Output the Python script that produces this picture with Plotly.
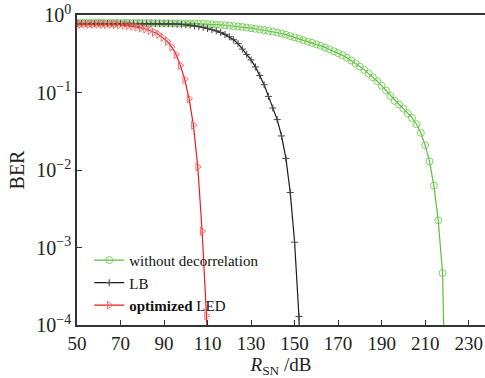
import plotly.graph_objects as go

# ---------------- data ----------------
x_green = [50, 52, 54, 56, 58, 60, 62, 64, 66, 68, 70, 72, 74, 76, 78, 80, 82, 84, 86, 88,
           90, 92, 94, 96, 98, 100, 102, 104, 106, 108, 110, 112, 114, 116, 118, 120, 122, 124,
           126, 128, 130, 132, 134, 136, 138, 140, 142, 144, 146, 148, 150, 152, 154, 156, 158,
           160, 162, 164, 166, 168, 170, 172, 174, 176, 178, 180, 182, 184, 186, 188, 190, 192,
           194, 196, 198, 200, 202, 204, 206, 208, 210, 212, 214, 216, 218, 220]
ber_green = [0.794, 0.794, 0.794, 0.794, 0.794, 0.794, 0.794, 0.794, 0.793, 0.793,
             0.792, 0.792, 0.791, 0.790, 0.790, 0.789, 0.788, 0.787, 0.786, 0.785,
             0.784, 0.783, 0.782, 0.781, 0.780, 0.779, 0.777, 0.775, 0.772, 0.768,
             0.764, 0.759, 0.752, 0.745, 0.737, 0.729, 0.720, 0.710, 0.700, 0.688,
             0.676, 0.664, 0.651, 0.638, 0.624, 0.610, 0.594, 0.577, 0.557, 0.535,
             0.514, 0.495, 0.474, 0.452, 0.436, 0.418, 0.399, 0.380, 0.360, 0.341,
             0.322, 0.302, 0.281, 0.259, 0.237, 0.216, 0.196, 0.176, 0.157, 0.140,
             0.122, 0.106, 0.0900, 0.0780, 0.0700, 0.0620, 0.0540, 0.0470, 0.0390, 0.0302,
             0.0209, 0.0129, 0.0063, 0.00224, 0.000468, 1e-6]

x_lb = [50, 52, 54, 56, 58, 60, 62, 64, 66, 68, 70, 72, 74, 76, 78, 80, 82, 84, 86, 88,
        90, 92, 94, 96, 98, 100, 102, 104, 106, 108, 110, 112, 114, 116, 118, 120, 122, 124,
        126, 128, 130, 132, 134, 136, 138, 140, 142, 144, 146, 148, 150, 152, 154]
ber_lb = [0.776, 0.776, 0.776, 0.776, 0.776, 0.776, 0.776, 0.776, 0.776, 0.776,
          0.776, 0.776, 0.776, 0.776, 0.776, 0.776, 0.776, 0.776, 0.776, 0.776,
          0.776, 0.773, 0.767, 0.762, 0.757, 0.750, 0.741, 0.724, 0.708, 0.692,
          0.668, 0.646, 0.624, 0.596, 0.562, 0.525, 0.479, 0.427, 0.363, 0.309,
          0.263, 0.214, 0.166, 0.126, 0.0891, 0.0631, 0.0447, 0.0275, 0.0141, 0.00513,
          0.00117, 0.000129, 1e-6]

x_opt = [49.5, 51.5, 53.5, 55.5, 57.5, 59.5, 61.5, 63.5, 65.5, 67.5, 69.5, 71.5, 73.5,
         75.5, 77.5, 79.5, 81.5, 83.5, 85.5, 87.5, 89.5, 91.5, 93.5, 95.5, 97.5, 99.5,
         101.5, 103.5, 105.5, 107.5, 109.5, 111.5]
ber_opt = [0.759, 0.759, 0.759, 0.759, 0.758, 0.758, 0.757, 0.756, 0.755, 0.752,
           0.748, 0.740, 0.729, 0.716, 0.700, 0.682, 0.660, 0.632, 0.600, 0.562,
           0.513, 0.457, 0.389, 0.309, 0.224, 0.148, 0.0832, 0.0380, 0.0110, 0.00162,
           0.000132, 1e-6]

names = ["without decorrelation", "LB", "<b>optimized</b> LED"]
x_ticks = [50, 70, 90, 110, 130, 150, 170, 190, 210, 230]
y_ticks = [1e-4, 1e-3, 1e-2, 1e-1, 1]
y_ticktext = ["10<sup>−4</sup>", "10<sup>−3</sup>", "10<sup>−2</sup>", "10<sup>−1</sup>", "10<sup>0</sup>"]

# ---------------- figure ----------------
FONT = "Liberation Serif"
fig = go.Figure()
fig.add_trace(go.Scatter(
    x=x_green, y=ber_green, name=names[0], mode="lines+markers",
    line=dict(color="#5cbf3a", width=1.2),
    marker=dict(symbol="circle-open", size=7, color="#74cc55", line=dict(width=0.9))))
fig.add_trace(go.Scatter(
    x=x_lb, y=ber_lb, name=names[1], mode="lines+markers",
    line=dict(color="#1a1a1a", width=1.2),
    marker=dict(symbol="cross-thin-open", size=5, color="#444444", line=dict(width=1))))
fig.add_trace(go.Scatter(
    x=x_opt, y=ber_opt, name=names[2], mode="lines+markers",
    line=dict(color="#ee1c1c", width=1.2),
    marker=dict(symbol="triangle-right-open", size=7, color="#ff5a5a", line=dict(width=0.9))))

fig.update_layout(
    width=485, height=378,
    margin=dict(l=77, r=0, t=15, b=51),
    paper_bgcolor="white", plot_bgcolor="white",
    font=dict(family=FONT, size=18, color="#222"),
    showlegend=True,
    legend=dict(x=0.03, y=0.01, xanchor="left", yanchor="bottom",
                bgcolor="rgba(255,255,255,0)", borderwidth=0,
                font=dict(family=FONT, size=15, color="#111"),
                itemwidth=30, tracegroupgap=0),
    xaxis=dict(range=[50, 237.5], tickvals=x_ticks, ticks="inside", ticklen=5,
               tickwidth=1.2, tickcolor="#333", showline=True, linecolor="#333",
               linewidth=1.5, mirror=True, showgrid=False, zeroline=False,
               tickfont=dict(family=FONT, size=19, color="#222"),
               title=dict(text="<i>R</i><sub>SN</sub> /dB", standoff=11,
                          font=dict(family=FONT, size=19, color="#222"))),
    yaxis=dict(type="log", range=[-4, 0], tickvals=y_ticks, ticktext=y_ticktext,
               ticks="inside", ticklen=5, tickwidth=1.2, tickcolor="#333",
               showline=True, linecolor="#333", linewidth=1.5, mirror=False,
               showgrid=False, zeroline=False, ticklabeloverflow="allow",
               tickfont=dict(family=FONT, size=20, color="#222"),
               title=dict(text="BER", standoff=6,
                          font=dict(family=FONT, size=20, color="#222"))),
)

# remove the default 8px page margin so the figure fills the window; hide the modebar
fig.write_html("out.html", config={"displayModeBar": False},
               post_script="document.body.style.margin='0';")
